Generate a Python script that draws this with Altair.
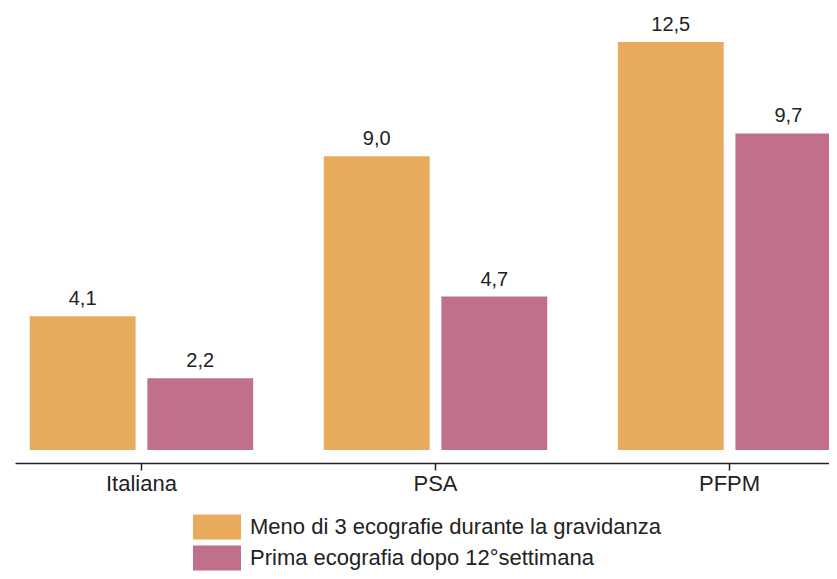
import altair as alt
import pandas as pd

categories = ["Italiana", "PSA", "PFPM"]
series = ["Meno di 3 ecografie durante la gravidanza", "Prima ecografia dopo 12°settimana"]
meno3 = [4.1, 9.0, 12.5]
dopo12 = [2.2, 4.7, 9.7]
colors = ["#E8AA5C", "#C0708A"]

rows = []
for i, c in enumerate(categories):
    rows.append({"cat": c, "serie": series[0], "val": meno3[i]})
    rows.append({"cat": c, "serie": series[1], "val": dopo12[i]})
df = pd.DataFrame(rows)
df["label"] = df["val"].map(lambda v: f"{v:.1f}".replace(".", ","))

FONT = "Liberation Sans"
TXT = "#222222"

x = alt.X(
    "cat:N",
    sort=categories,
    scale=alt.Scale(range=[0, 841], paddingInner=0.24, paddingOuter=0.05),
    axis=alt.Axis(
        title=None, labelAngle=0, grid=False, offset=13,
        domainColor=TXT, domainWidth=1.5, tickColor=TXT, tickWidth=1.5, tickSize=7,
        labelFont=FONT, labelFontSize=22, labelColor=TXT, labelPadding=3,
    ),
)
xo = alt.XOffset("serie:N", sort=series, scale=alt.Scale(paddingInner=0.1, paddingOuter=0))
y = alt.Y("val:Q", scale=alt.Scale(domain=[0, 13.48], nice=False, zero=True), axis=None)

bars = alt.Chart(df).mark_bar(opacity=1).encode(
    x=x, xOffset=xo, y=y,
    color=alt.Color(
        "serie:N", sort=series,
        scale=alt.Scale(domain=series, range=colors),
        legend=alt.Legend(
            title=None, orient="none", legendX=190, legendY=505,
            symbolType="M-2,-1.04H2V1.04H-2Z", symbolSize=576,
            symbolStrokeWidth=0, symbolOpacity=1,
            labelFont=FONT, labelFontSize=22, labelColor=TXT, labelOffset=21,
            labelLimit=0, padding=0, rowPadding=5,
        ),
    ),
)

labels = alt.Chart(df).mark_text(
    baseline="alphabetic", dy=-11, font=FONT, fontSize=20, color=TXT
).encode(x=x, xOffset=xo, y=y, text="label:N")

chart = (bars + labels).properties(
    width=814, height=440,
    autosize=alt.AutoSizeParams(type="none"),
    padding={"left": 7, "top": 2, "right": 0, "bottom": 121},
).configure_view(stroke=None)

chart.save("out.html", embed_options={"renderer": "svg", "actions": False})
